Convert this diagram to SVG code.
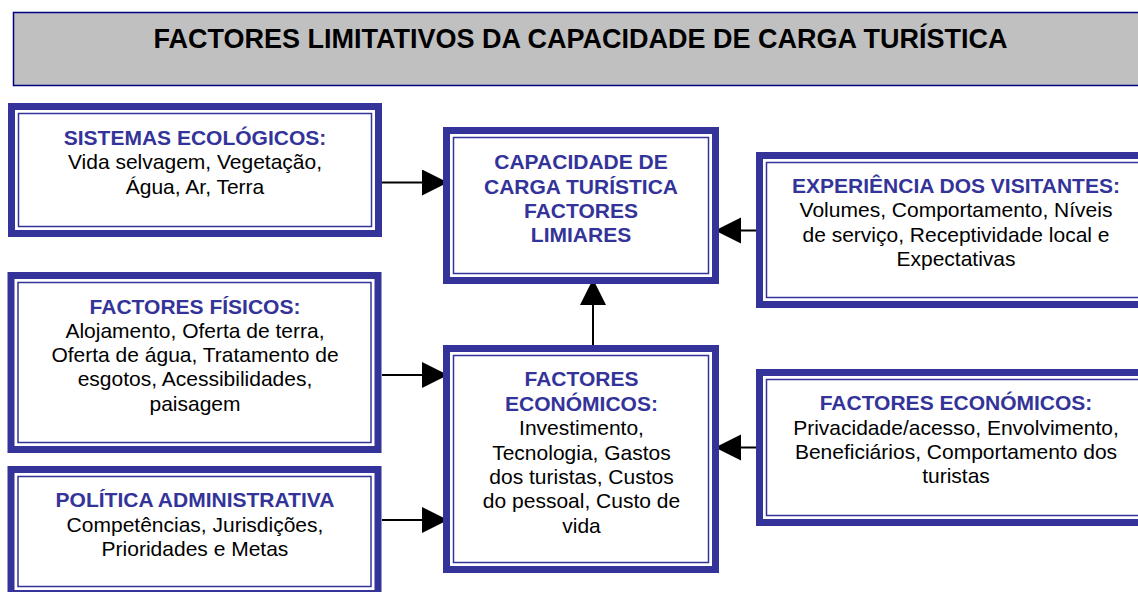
<svg xmlns="http://www.w3.org/2000/svg" width="1138" height="592" viewBox="0 0 1138 592">
<defs>
<style>
.outer{fill:#ffffff;stroke:#333399;stroke-width:7}
.inner{fill:none;stroke:#333399;stroke-width:1.5}
.hd{font-family:"Liberation Sans",Arial,sans-serif;font-size:21px;font-weight:bold;fill:#333399;text-anchor:middle}
.tx{font-family:"Liberation Sans",Arial,sans-serif;font-size:21px;fill:#000000;text-anchor:middle}
.title{font-family:"Liberation Sans",Arial,sans-serif;font-size:27px;font-weight:bold;fill:#000000;text-anchor:middle}
.conn{stroke:#000000;stroke-width:2;fill:none;marker-end:url(#arrow)}
</style>
<marker id="arrow" markerUnits="userSpaceOnUse" markerWidth="27" markerHeight="27" refX="26" refY="13" orient="auto">
<path d="M0,0 L26,13 L0,26 Z" fill="#000000"/>
</marker>
</defs>
<rect width="1138" height="592" fill="#ffffff"/>

<g id="title">
<rect x="13.5" y="12.5" width="1140" height="73" fill="#c0c0c0" stroke="#000080" stroke-width="1.5"/>
<text class="title" x="580.5" y="47.7">FACTORES LIMITATIVOS DA CAPACIDADE DE CARGA TURÍSTICA</text>
</g>

<g id="connectors">
<line class="conn" x1="382" y1="182.5" x2="448" y2="182.5"/>
<line class="conn" x1="756" y1="230.5" x2="715" y2="230.5"/>
<line class="conn" x1="593" y1="345" x2="593" y2="279"/>
<line class="conn" x1="382" y1="375" x2="448" y2="375"/>
<line class="conn" x1="382" y1="520" x2="448" y2="520"/>
<line class="conn" x1="756" y1="447.5" x2="715" y2="447.5"/>
</g>

<g id="sistemas">
<rect class="outer" x="11.5" y="106.5" width="367" height="127"/>
<rect class="inner" x="18.5" y="113.5" width="353" height="113"/>
<text class="hd" x="195" y="144.5">SISTEMAS ECOLÓGICOS:</text>
<text class="tx" x="195" y="169">Vida selvagem, Vegetação,</text>
<text class="tx" x="195" y="193.5">Água, Ar, Terra</text>
</g>

<g id="capacidade">
<rect class="outer" x="446.5" y="130.5" width="269" height="150"/>
<rect class="inner" x="453.5" y="137.5" width="255" height="136"/>
<text class="hd" x="581" y="169.3">CAPACIDADE DE</text>
<text class="hd" x="581" y="193.5">CARGA TURÍSTICA</text>
<text class="hd" x="581" y="217.7">FACTORES</text>
<text class="hd" x="581" y="242">LIMIARES</text>
</g>

<g id="experiencia">
<rect class="outer" x="759.5" y="155.5" width="420" height="149"/>
<rect class="inner" x="766.5" y="162.5" width="420" height="135"/>
<text class="hd" x="956" y="192.7">EXPERIÊNCIA DOS VISITANTES:</text>
<text class="tx" x="956" y="217.3">Volumes, Comportamento, Níveis</text>
<text class="tx" x="956" y="241.5">de serviço, Receptividade local e</text>
<text class="tx" x="956" y="266">Expectativas</text>
</g>

<g id="fisicos">
<rect class="outer" x="11" y="275.5" width="367" height="174"/>
<rect class="inner" x="18" y="282.5" width="353" height="160"/>
<text class="hd" x="195" y="314">FACTORES FÍSICOS:</text>
<text class="tx" x="195" y="337.5">Alojamento, Oferta de terra,</text>
<text class="tx" x="195" y="362">Oferta de água, Tratamento de</text>
<text class="tx" x="195" y="386.3">esgotos, Acessibilidades,</text>
<text class="tx" x="195" y="410.6">paisagem</text>
</g>

<g id="economicos-centro">
<rect class="outer" x="446.5" y="348.5" width="269" height="221"/>
<rect class="inner" x="453.5" y="355.5" width="255" height="207"/>
<text class="hd" x="581.5" y="386">FACTORES</text>
<text class="hd" x="581.5" y="410.5">ECONÓMICOS:</text>
<text class="tx" x="581.5" y="435">Investimento,</text>
<text class="tx" x="581.5" y="459.5">Tecnologia, Gastos</text>
<text class="tx" x="581.5" y="484">dos turistas, Custos</text>
<text class="tx" x="581.5" y="508.4">do pessoal, Custo de</text>
<text class="tx" x="581.5" y="532.7">vida</text>
</g>

<g id="economicos-direita">
<rect class="outer" x="759.5" y="372.5" width="420" height="150"/>
<rect class="inner" x="766.5" y="379.5" width="420" height="136"/>
<text class="hd" x="956" y="410">FACTORES ECONÓMICOS:</text>
<text class="tx" x="956" y="434.5">Privacidade/acesso, Envolvimento,</text>
<text class="tx" x="956" y="459">Beneficiários, Comportamento dos</text>
<text class="tx" x="956" y="483.3">turistas</text>
</g>

<g id="politica">
<rect class="outer" x="11" y="469.5" width="367" height="124"/>
<rect class="inner" x="18" y="476.5" width="353" height="110"/>
<text class="hd" x="195" y="507">POLÍTICA ADMINISTRATIVA</text>
<text class="tx" x="195" y="532">Competências, Jurisdições,</text>
<text class="tx" x="195" y="556.3">Prioridades e Metas</text>
</g>
</svg>
